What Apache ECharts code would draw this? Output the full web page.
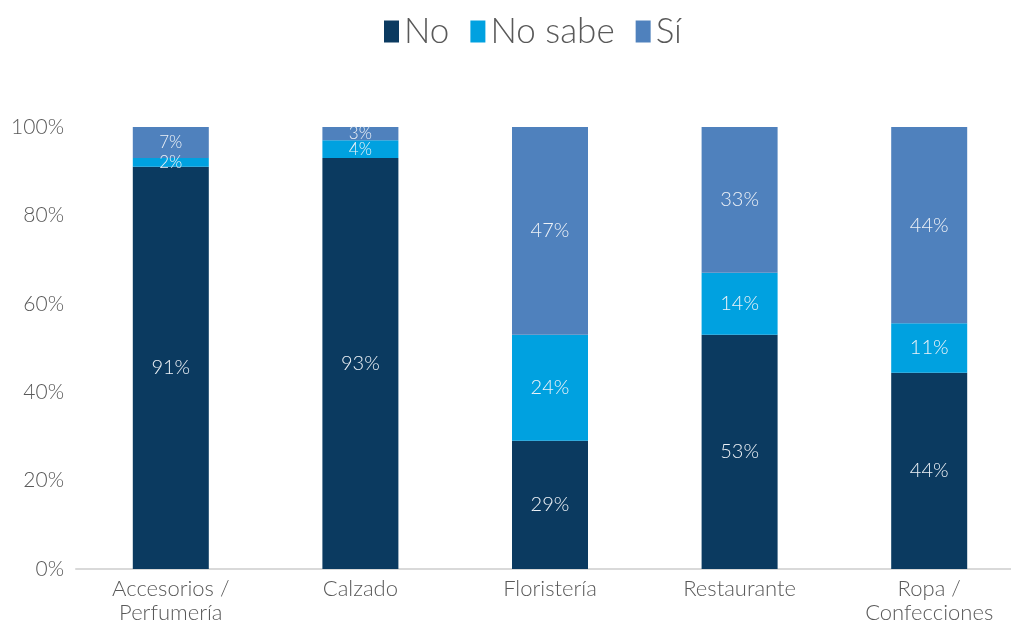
<!DOCTYPE html>
<html>
<head>
<meta charset="utf-8">
<title>Chart</title>
<style>
    html, body { margin: 0; padding: 0; background: #fff; overflow: hidden; }
    #main { width: 1024px; height: 625px; }
</style>
</head>
<body>
<div id="main"></div>
<script src="https://cdn.jsdelivr.net/npm/echarts@6/dist/echarts.min.js"></script>
<script>
    var categories = ['Accesorios /\nPerfumería', 'Calzado', 'Floristería', 'Restaurante', 'Ropa /\nConfecciones'];
    var seriesNames = ['No', 'No sabe', 'Sí'];
    var noValues = [91, 93, 29, 53, 44.4];
    var noSabeValues = [2, 4, 24, 14, 11.2];
    var siValues = [7, 3, 47, 33, 44.4];
    var yTicks = [0, 20, 40, 60, 80, 100];
    var colors = ['#0b3a60', '#00a1e0', '#4f81bd'];

    var font = 'Lato';

    // small segments get a smaller label
    function toData(values) {
        return values.map(function (v) {
            var item = { value: v };
            if (v < 8) {
                item.label = { fontSize: 17 };
            }
            return item;
        });
    }

    function makeSeries(name, values, color) {
        return {
            name: name,
            type: 'bar',
            stack: 'total',
            barWidth: 76,
            itemStyle: { color: color },
            label: {
                show: true,
                position: 'inside',
                color: '#eef2f7',
                fontFamily: font,
                fontWeight: 300,
                fontSize: 20,
                formatter: function (p) { return Math.round(p.value) + '%'; }
            },
            data: toData(values)
        };
    }

    // chart is a bit wider than the window, right edge gets cut like in the original
    var myChart = echarts.init(document.getElementById('main'));
    var option = {
        animation: false,
        textStyle: { fontFamily: font },
        legend: {
            data: seriesNames,
            icon: 'rect',
            top: 9,
            left: 379,
            itemWidth: 15,
            itemHeight: 22,
            itemGap: 21,
            textStyle: { fontSize: 35, color: '#595959', fontFamily: font, fontWeight: 300 }
        },
        grid: {
            left: 76,
            right: 0,
            top: 127,
            bottom: 54
        },
        xAxis: {
            type: 'category',
            data: categories,
            axisLine: { lineStyle: { color: '#d9d9d9', width: 2 } },
            axisTick: { show: false },
            axisLabel: {
                color: '#595959',
                fontSize: 22,
                fontWeight: 300,
                lineHeight: 24,
                margin: 8
            }
        },
        yAxis: {
            type: 'value',
            min: yTicks[0],
            max: yTicks[yTicks.length - 1],
            interval: 20,
            splitLine: { show: false },
            axisLine: { show: false },
            axisTick: { show: false },
            axisLabel: {
                color: '#595959',
                fontSize: 21,
                fontWeight: 300,
                margin: 12,
                formatter: '{value}%'
            }
        },
        series: [
            makeSeries(seriesNames[0], noValues, colors[0]),
            makeSeries(seriesNames[1], noSabeValues, colors[1]),
            makeSeries(seriesNames[2], siValues, colors[2])
        ]
    };
    myChart.setOption(option);
</script>
</body>
</html>
